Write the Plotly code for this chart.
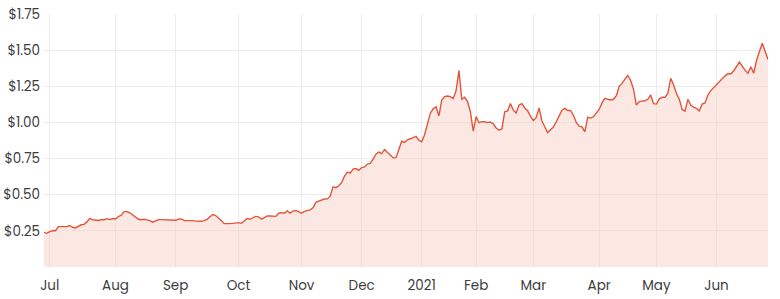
import pandas as pd
import plotly.graph_objects as go

# ---- data (ASX trading days, 29 Jun 2020 - 28 Jun 2021) ----
start_date = "2020-06-29"
end_date = "2021-06-28"
holidays = ["2020-12-25", "2020-12-28", "2021-01-01", "2021-01-26",
            "2021-04-02", "2021-04-05", "2021-06-14"]

prices = [
    0.240, 0.233, 0.245, 0.251, 0.251, 0.279, 0.279, 0.279, 0.279, 0.287,
    0.275, 0.270, 0.282, 0.292, 0.295, 0.312, 0.336, 0.326, 0.325, 0.322,
    0.327, 0.327, 0.334, 0.328, 0.335, 0.332, 0.348, 0.358, 0.383, 0.383,
    0.375, 0.360, 0.342, 0.330, 0.327, 0.330, 0.326, 0.321, 0.310, 0.320,
    0.328, 0.328, 0.326, 0.329, 0.327, 0.323, 0.323, 0.330, 0.333, 0.321,
    0.322, 0.325, 0.321, 0.317, 0.314, 0.316, 0.321, 0.330, 0.348, 0.363,
    0.356, 0.340, 0.320, 0.300, 0.298, 0.300, 0.302, 0.303, 0.307, 0.302,
    0.316, 0.336, 0.330, 0.342, 0.350, 0.347, 0.331, 0.341, 0.353, 0.353,
    0.349, 0.350, 0.372, 0.376, 0.372, 0.388, 0.373, 0.387, 0.391, 0.382,
    0.372, 0.385, 0.391, 0.395, 0.410, 0.447, 0.455, 0.462, 0.470, 0.471,
    0.490, 0.555, 0.549, 0.562, 0.583, 0.628, 0.657, 0.649, 0.677, 0.681,
    0.668, 0.687, 0.692, 0.712, 0.717, 0.746, 0.780, 0.795, 0.784, 0.813,
    0.794, 0.774, 0.755, 0.756, 0.817, 0.870, 0.862, 0.880, 0.887, 0.895,
    0.904, 0.877, 0.866, 0.915, 0.995, 1.064, 1.094, 1.108, 1.045, 1.155,
    1.178, 1.183, 1.178, 1.165, 1.220, 1.358, 1.160, 1.174, 1.144, 1.074,
    0.940, 1.040, 0.998, 1.005, 1.005, 0.999, 1.003, 0.990, 0.962, 0.946,
    0.955, 1.074, 1.080, 1.130, 1.085, 1.065, 1.120, 1.130, 1.100, 1.081,
    1.044, 1.012, 1.035, 1.100, 1.010, 0.968, 0.930, 0.950, 0.968, 1.005,
    1.040, 1.085, 1.097, 1.082, 1.083, 1.050, 1.000, 0.974, 0.969, 0.935,
    1.036, 1.030, 1.040, 1.067, 1.090, 1.135, 1.167, 1.160, 1.155, 1.160,
    1.185, 1.250, 1.270, 1.300, 1.325, 1.290, 1.230, 1.120, 1.144, 1.147,
    1.150, 1.160, 1.190, 1.130, 1.127, 1.163, 1.174, 1.174, 1.200, 1.305,
    1.260, 1.200, 1.160, 1.090, 1.078, 1.160, 1.120, 1.105, 1.097, 1.080,
    1.127, 1.135, 1.190, 1.220, 1.240, 1.260, 1.287, 1.300, 1.322, 1.338,
    1.335, 1.356, 1.384, 1.418, 1.390, 1.360, 1.340, 1.385, 1.340, 1.430,
    1.490, 1.547, 1.490, 1.436,
]

month_ticks = ["2020-07-01", "2020-08-03", "2020-09-01", "2020-10-01",
               "2020-11-02", "2020-12-01", "2021-01-04", "2021-02-01",
               "2021-03-01", "2021-04-01", "2021-05-03", "2021-06-01"]
month_labels = ["Jul", "Aug", "Sep", "Oct", "Nov", "Dec", "2021", "Feb",
                "Mar", "Apr", "May", "Jun"]

y_ticks = [0.25, 0.50, 0.75, 1.00, 1.25, 1.50, 1.75]
y_labels = ["$0.25", "$0.50", "$0.75", "$1.00", "$1.25", "$1.50", "$1.75"]

# ---- build ----
days = pd.bdate_range(start_date, end_date)
days = days[~days.isin(pd.to_datetime(holidays))]
dates = [d.strftime("%Y-%m-%d") for d in days]
n = min(len(dates), len(prices))
dates, prices = dates[:n], prices[:n]

line_color = "#e2553b"
fill_color = "rgba(249, 214, 203, 0.55)"
font_family = "Poppins, Inter, 'Open Sans', sans-serif"

fig = go.Figure(
    go.Scatter(
        x=dates, y=prices, mode="lines",
        line=dict(color=line_color, width=1.4),
        fill="tozeroy", fillcolor=fill_color,
        hoverinfo="skip",
    )
)

fig.update_layout(
    width=780, height=299,
    margin=dict(l=44, r=12, t=14, b=32, autoexpand=False),
    paper_bgcolor="white", plot_bgcolor="white",
    showlegend=False,
    font=dict(family=font_family, size=13, color="#3d3d3d"),
)

fig.update_xaxes(
    type="date",
    automargin=False,
    range=[dates[0], dates[-1]],
    rangebreaks=[dict(bounds=["sat", "mon"]), dict(values=holidays)],
    tickmode="array", tickvals=month_ticks, ticktext=month_labels,
    showgrid=True, gridcolor="#ececec", gridwidth=1,
    showline=False, zeroline=False, ticks="",
    ticklabelstandoff=8,
    tickfont=dict(size=13.5, color="#3d3d3d"),
)

fig.update_yaxes(
    automargin=False,
    range=[0, 1.75],
    tickmode="array", tickvals=y_ticks, ticktext=y_labels,
    showgrid=True, gridcolor="#ececec", gridwidth=1,
    showline=False, zeroline=False, ticks="",
    ticklabelstandoff=3,
    tickfont=dict(size=13.5, color="#3d3d3d"),
)

fig.write_html("out.html")
